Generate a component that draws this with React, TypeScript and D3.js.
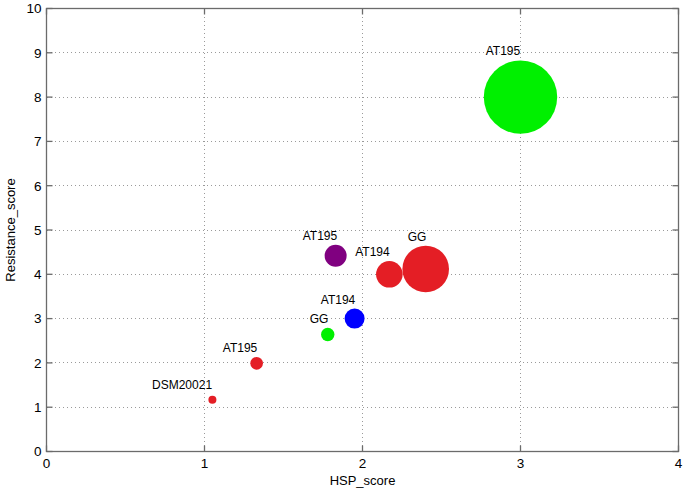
import { useEffect, useRef } from 'react'
import * as d3 from 'd3'

// strains in the bubble chart
const names = ['DSM20021', 'AT195', 'GG', 'AT194', 'AT195', 'AT194', 'GG', 'AT195']
const hsp = [1.05, 1.33, 1.78, 1.95, 1.83, 2.17, 2.4, 3.0]
const resistance = [1.17, 1.99, 2.64, 3.0, 4.42, 4.0, 4.12, 8.0]
const size = [16, 40, 45, 100, 121, 177, 543, 1347]
const colors = ['#e41e25', '#e41e25', '#00f000', '#0000ff', '#800080', '#e41e25', '#e41e25', '#00f000']
// label anchor points (data units)
const labelX = [0.858, 1.225, 1.725, 1.845, 1.731, 2.063, 2.345, 2.889]
const labelY = [1.4, 2.235, 2.91, 3.34, 4.785, 4.41, 4.75, 8.94]

const xTicks = [0, 1, 2, 3, 4]
const yTicks = [0, 1, 2, 3, 4, 5, 6, 7, 8, 9, 10]

const W = 686, H = 492
const font = 'Arial, "Liberation Sans", Helvetica, sans-serif'

export default function App() {
  const ref = useRef<SVGSVGElement>(null)

  useEffect(() => {
    const svg = d3.select(ref.current!)
    svg.selectAll('*').remove()

    const x0 = 46.5, x1 = 678.5, y0 = 8.5, y1 = 451.5
    const x = d3.scaleLinear().domain([0, 4]).range([x0, x1])
    const y = d3.scaleLinear().domain([0, 10]).range([y1, y0])
    const r = d3.scaleSqrt().domain([0, 1347]).range([0, 36.7])
    const px = (v: number) => Math.round(v - 0.5) + 0.5

    svg.append('rect').attr('width', W).attr('height', H).attr('fill', '#fff')

    // grid (dotted)
    const grid = svg.append('g').attr('stroke', '#9a9a9a').attr('stroke-width', 1)
      .attr('stroke-dasharray', '1,3').attr('shape-rendering', 'crispEdges')
    xTicks.slice(1, -1).forEach(t => {
      grid.append('line').attr('x1', px(x(t))).attr('x2', px(x(t))).attr('y1', y0).attr('y2', y1)
    })
    yTicks.slice(1, -1).forEach(t => {
      grid.append('line').attr('x1', x0).attr('x2', x1).attr('y1', px(y(t))).attr('y2', px(y(t)))
    })

    // frame + inward ticks
    const axis = svg.append('g').attr('stroke', '#6b6b6b').attr('stroke-width', 1.3).attr('fill', 'none')
    axis.append('rect').attr('x', x0).attr('y', y0).attr('width', x1 - x0).attr('height', y1 - y0)
    const tl = 6
    xTicks.forEach(t => {
      axis.append('line').attr('x1', x(t)).attr('x2', x(t)).attr('y1', y1).attr('y2', y1 - tl)
      axis.append('line').attr('x1', x(t)).attr('x2', x(t)).attr('y1', y0).attr('y2', y0 + tl)
    })
    yTicks.forEach(t => {
      axis.append('line').attr('x1', x0).attr('x2', x0 + tl).attr('y1', y(t)).attr('y2', y(t))
      axis.append('line').attr('x1', x1).attr('x2', x1 - tl).attr('y1', y(t)).attr('y2', y(t))
    })

    // tick labels
    xTicks.forEach(t => {
      svg.append('text').attr('x', x(t)).attr('y', y1 + 16)
        .attr('text-anchor', 'middle').attr('font-family', font).attr('font-size', 13.5)
        .text(t)
    })
    yTicks.forEach(t => {
      svg.append('text').attr('x', x0 - 5).attr('y', y(t) + 4.8)
        .attr('text-anchor', 'end').attr('font-family', font).attr('font-size', 13.5)
        .text(t)
    })

    // axis titles
    svg.append('text').attr('x', (x0 + x1) / 2).attr('y', 485)
      .attr('text-anchor', 'middle').attr('font-family', font).attr('font-size', 13)
      .text('HSP_score')
    svg.append('text').attr('transform', `translate(15, ${(y0 + y1) / 2}) rotate(-90)`)
      .attr('text-anchor', 'middle').attr('font-family', font).attr('font-size', 13)
      .text('Resistance_score')

    // bubbles
    hsp.forEach((h, i) => {
      svg.append('circle').attr('cx', x(h)).attr('cy', y(resistance[i])).attr('r', r(size[i]))
        .attr('fill', colors[i])
    })

    // labels
    names.forEach((n, i) => {
      svg.append('text').attr('x', x(labelX[i])).attr('y', y(labelY[i]))
        .attr('text-anchor', 'middle').attr('font-family', font).attr('font-size', 12)
        .text(n)
    })
  }, [])

  return <svg ref={ref} width={W} height={H} style={{ position: 'absolute', left: 0, top: 0 }} />
}
